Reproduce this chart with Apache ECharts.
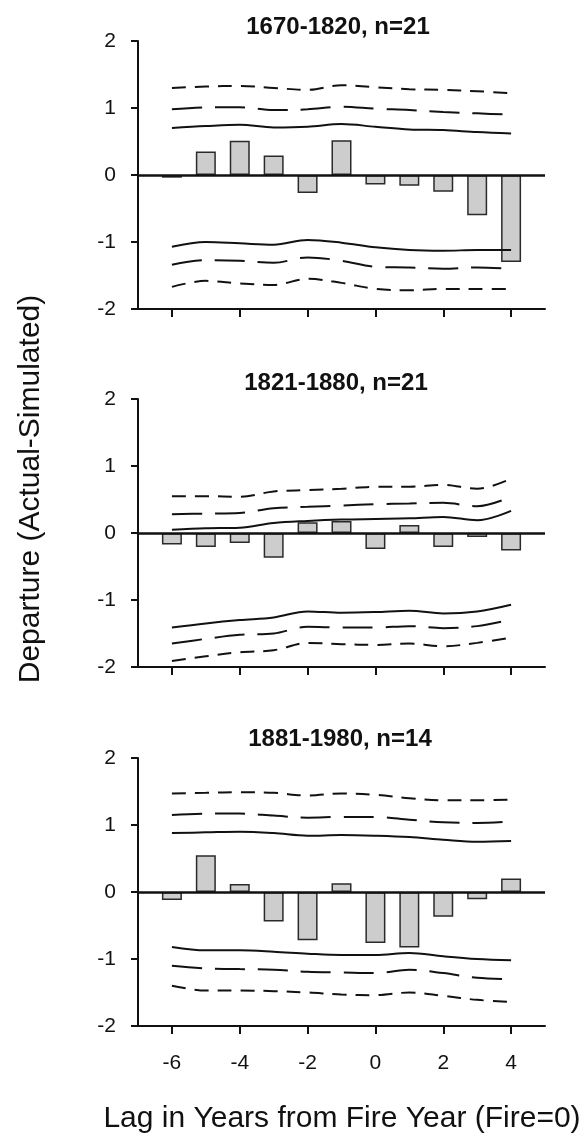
<!DOCTYPE html>
<html>
<head>
<meta charset="utf-8">
<script src="https://cdn.jsdelivr.net/npm/echarts@6/dist/echarts.min.js"></script>
<style>
html,body{margin:0;padding:0;background:#fff;}
#chart{width:587px;height:1135px;}
</style>
</head>
<body>
<div id="chart"></div>
<script>
// ---- data ----
const lags = [-6, -5, -4, -3, -2, -1, 0, 1, 2, 3, 4];
const xTickValues = [-6, -4, -2, 0, 2, 4];
const panelTitles = ['1670-1820, n=21', '1821-1880, n=21', '1881-1980, n=14'];
const yAxisTitle = 'Departure (Actual-Simulated)';
const xAxisTitle = 'Lag in Years from Fire Year (Fire=0)';

// Panel 1: 1670-1820
const bars1     = [-0.04, 0.35, 0.51, 0.29, -0.27, 0.52, -0.14, -0.16, -0.25, -0.60, -1.30];
const upOuter1  = [1.30, 1.32, 1.33, 1.30, 1.27, 1.34, 1.31, 1.28, 1.27, 1.25, 1.22];
const upMid1    = [0.98, 1.01, 1.01, 0.97, 0.98, 1.02, 0.99, 0.97, 0.94, 0.92, 0.90];
const upIn1     = [0.70, 0.73, 0.75, 0.71, 0.72, 0.76, 0.72, 0.68, 0.67, 0.64, 0.62];
const loIn1     = [-1.07, -1.00, -1.02, -1.04, -0.97, -1.01, -1.08, -1.12, -1.13, -1.12, -1.12];
const loMid1    = [-1.34, -1.27, -1.28, -1.31, -1.23, -1.28, -1.37, -1.38, -1.40, -1.38, -1.40];
const loOuter1  = [-1.67, -1.58, -1.62, -1.64, -1.55, -1.61, -1.70, -1.72, -1.70, -1.70, -1.70];

// Panel 2: 1821-1880
const bars2     = [-0.17, -0.21, -0.15, -0.37, 0.16, 0.18, -0.24, 0.12, -0.21, -0.06, -0.26];
const upOuter2  = [0.55, 0.55, 0.54, 0.62, 0.64, 0.66, 0.69, 0.69, 0.72, 0.66, 0.81];
const upMid2    = [0.28, 0.29, 0.30, 0.37, 0.39, 0.41, 0.43, 0.44, 0.45, 0.40, 0.54];
const upIn2     = [0.05, 0.07, 0.08, 0.15, 0.18, 0.20, 0.21, 0.22, 0.24, 0.19, 0.33];
const loIn2     = [-1.41, -1.35, -1.30, -1.26, -1.17, -1.19, -1.18, -1.16, -1.20, -1.17, -1.07];
const loMid2    = [-1.65, -1.58, -1.52, -1.50, -1.40, -1.41, -1.41, -1.39, -1.42, -1.39, -1.29];
const loOuter2  = [-1.91, -1.84, -1.78, -1.75, -1.64, -1.66, -1.67, -1.65, -1.69, -1.64, -1.56];

// Panel 3: 1881-1980
const bars3     = [-0.12, 0.55, 0.12, -0.44, -0.72, 0.13, -0.76, -0.83, -0.37, -0.11, 0.20];
const upOuter3  = [1.47, 1.48, 1.49, 1.48, 1.44, 1.47, 1.45, 1.40, 1.37, 1.37, 1.38];
const upMid3    = [1.15, 1.17, 1.17, 1.14, 1.11, 1.12, 1.12, 1.08, 1.04, 1.03, 1.05];
const upIn3     = [0.88, 0.89, 0.90, 0.88, 0.84, 0.85, 0.84, 0.82, 0.78, 0.75, 0.76];
const loIn3     = [-0.82, -0.87, -0.87, -0.89, -0.92, -0.94, -0.94, -0.91, -0.96, -1.00, -1.02];
const loMid3    = [-1.10, -1.14, -1.15, -1.16, -1.19, -1.20, -1.21, -1.16, -1.21, -1.28, -1.30];
const loOuter3  = [-1.40, -1.47, -1.47, -1.48, -1.50, -1.53, -1.54, -1.50, -1.55, -1.61, -1.64];

const panels = [
  {bars: bars1, lines: [upOuter1, upMid1, upIn1, loIn1, loMid1, loOuter1]},
  {bars: bars2, lines: [upOuter2, upMid2, upIn2, loIn2, loMid2, loOuter2]},
  {bars: bars3, lines: [upOuter3, upMid3, upIn3, loIn3, loMid3, loOuter3]}
];

// ---- layout / style ----
const FONT = '"Liberation Sans", Arial, sans-serif';
const INK = '#111';
const gridTops = [41, 399, 758];
const gridH = 268;
const lineKinds = ['outer', 'mid', 'in', 'in', 'mid', 'outer'];
const dashFor = {outer: [14, 9], mid: [30, 13], in: 'solid'};

const pair = arr => lags.map((x, i) => [x, arr[i]]);

const grid = [], xAxis = [], yAxis = [], series = [];
panels.forEach((p, k) => {
  grid.push({left: 138, right: 42, top: gridTops[k], height: gridH, containLabel: false});
  xAxis.push({
    type: 'value', gridIndex: k, min: -7, max: 5, interval: 1,
    axisLine: {show: true, onZero: false, lineStyle: {color: INK, width: 2}},
    axisTick: {show: true, length: 8, customValues: xTickValues, lineStyle: {color: INK, width: 2}},
    axisLabel: k === 2
      ? {show: true, customValues: xTickValues, margin: 27, fontSize: 21, color: INK, fontFamily: FONT}
      : {show: false},
    splitLine: {show: false}
  });
  yAxis.push({
    type: 'value', gridIndex: k, min: -2, max: 2, interval: 1,
    axisLine: {show: true, onZero: false, lineStyle: {color: INK, width: 2}},
    axisTick: {show: true, length: 7, lineStyle: {color: INK, width: 2}},
    axisLabel: {show: true, margin: 22, fontSize: 21, color: INK, fontFamily: FONT},
    splitLine: {show: false}
  });
  series.push({
    type: 'bar', xAxisIndex: k, yAxisIndex: k,
    data: pair(p.bars), barWidth: 20,
    itemStyle: {color: '#cdcdcd', borderColor: '#2a2a2a', borderWidth: 1.5},
    z: 2, silent: true,
    markLine: {
      silent: true, symbol: 'none', label: {show: false},
      lineStyle: {color: INK, width: 2.5, type: 'solid'},
      data: [{yAxis: 0}]
    }
  });
  p.lines.forEach((arr, j) => {
    series.push({
      type: 'line', xAxisIndex: k, yAxisIndex: k,
      data: pair(arr), showSymbol: false, symbol: 'none', smooth: 0.35,
      lineStyle: {color: INK, width: 2, type: dashFor[lineKinds[j]]},
      z: 3, silent: true
    });
  });
});

const titleCenters = [[338, 27], [336, 383], [340, 739]];
const graphic = panelTitles.map((t, k) => ({
  type: 'text', x: titleCenters[k][0], y: titleCenters[k][1],
  style: {text: t, fontSize: 24, fontWeight: 'bold', fontFamily: FONT, fill: INK,
          align: 'center', verticalAlign: 'middle'}
}));
graphic.push({
  type: 'text', x: 31, y: 489, rotation: Math.PI / 2,
  style: {text: yAxisTitle, fontSize: 30, fontFamily: FONT, fill: INK,
          align: 'center', verticalAlign: 'middle'}
});
graphic.push({
  type: 'text', x: 342, y: 1119,
  style: {text: xAxisTitle, fontSize: 30, fontFamily: FONT, fill: INK,
          align: 'center', verticalAlign: 'middle'}
});

const chart = echarts.init(document.getElementById('chart'), null, {renderer: 'canvas'});
chart.setOption({
  animation: false,
  backgroundColor: '#fff',
  grid, xAxis, yAxis, series, graphic
});
</script>
</body>
</html>
